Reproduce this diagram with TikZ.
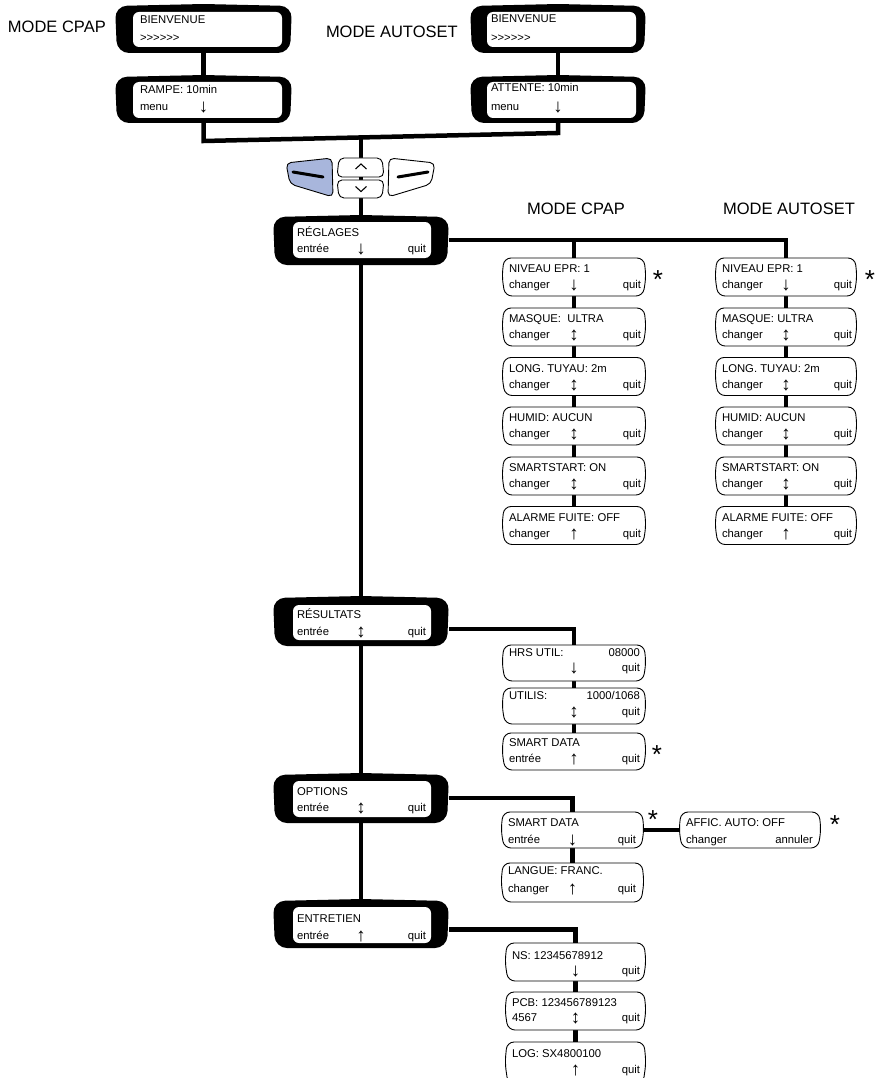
\documentclass[tikz,border=0pt]{standalone}
\usepackage{fontspec}
\usepackage{graphicx}
\setmainfont{Liberation Sans}
\usetikzlibrary{calc,fit}
\definecolor{btnblue}{RGB}{168,182,220}
\tikzset{
  area/.style={inner sep=0pt, outer sep=0pt, draw=none},
  conn/.style={line width=4.5pt, line join=miter, line cap=butt},
  tx/.style={inner sep=0pt, outer sep=0pt, font=\fontsize{11.3}{13}\selectfont},
  modelabel/.style={inner sep=0pt, outer sep=0pt, font=\fontsize{16.5}{19}\selectfont},
  starmark/.style={inner sep=0pt, outer sep=0pt, font=\fontsize{26}{28}\selectfont},
  sline/.style={draw=black, line width=0.9pt, fill=white, rounded corners=7pt},
  frame/.style={fill=black, rounded corners=12pt},
  screen/.style={fill=white, rounded corners=6pt},
  btn/.style={draw=black, line width=0.9pt, rounded corners=5pt},
}
\newcommand\mkbox[5]{\node[area, fit={(#2,#3) (#4,#5)}] (#1) {};}
\newcommand\frameshape[2]{%
  \fill[frame] ($(#1.north west)+(0,2)$) -- (#1.north) -- ($(#1.north east)+(0,2)$)
     -- ($(#1.south east)+(-2,0)$) -- ($(#1.south west)+(2,0)$) -- cycle;
  \fill[screen] (#2.north west) rectangle (#2.south east);}
\newcommand\smallshape[1]{%
  \draw[sline] ($(#1.north west)+(1,0)$) -- ($(#1.north east)+(-1,0)$) -- ($(#1.east)+(1,0)$)
     -- ($(#1.south east)+(-2,0)$) -- ($(#1.south west)+(2,0)$) -- ($(#1.west)+(-1,0)$) -- cycle;}
\newcommand\arr[1]{\ifx\relax#1\relax\else\resizebox{!}{10.5pt}{#1}\fi}
\newcommand\padL{6pt}
\newcommand\padR{5pt}
\newcommand\lines[9]{%
  \path ([xshift=\padL]#1.west) coordinate (#1-xl) ([xshift=-\padR]#1.east) coordinate (#1-xr);
  \node[tx, anchor=base west] (#1-tl) at (#1-xl |- 0,#3) {#5};
  \node[tx, anchor=base east] (#1-tr) at (#1-xr |- 0,#3) {#6};
  \node[tx, anchor=base west] (#1-bl) at (#1-xl |- 0,#4) {#7};
  \node[tx, anchor=center] (#1-ar) at ($(#2.center |- 0,#4)+(0,-2.5)$) {\arr{#8}};
  \node[tx, anchor=base east] (#1-br) at (#1-xr |- 0,#4) {#9};}
\begin{document}
\begin{tikzpicture}[x=1pt,y=-1pt]
\useasboundingbox (0,0) rectangle (876,1078);
\fill[white] (0,0) rectangle (876,1078);
% ---------- box areas ----------
\mkbox{bien1}{115}{4}{292}{53}     \mkbox{bien1in}{133}{12}{282}{47}
\mkbox{rampe}{115}{75}{292}{123}   \mkbox{rampein}{133}{82}{282}{118}
\mkbox{bien2}{470}{4}{646}{53}     \mkbox{bien2in}{487}{12}{636}{47}
\mkbox{attente}{470}{75}{646}{123} \mkbox{attentein}{487}{82}{636}{118}
\mkbox{reglages}{273}{215}{449}{265}   \mkbox{reglagesin}{293}{222}{431}{258}
\mkbox{resultats}{273}{596}{449}{646}  \mkbox{resultatsin}{293}{605}{431}{640}
\mkbox{options}{273}{773}{449}{823}    \mkbox{optionsin}{293}{781}{431}{817}
\mkbox{entretien}{273}{899}{449}{948}  \mkbox{entretienin}{293}{907}{431}{943}
% CPAP column
\mkbox{niv1}{503}{258}{645}{296}
\mkbox{masq1}{503}{308}{645}{346}
\mkbox{long1}{503}{357.5}{645}{395.5}
\mkbox{humid1}{503}{407}{645}{445}
\mkbox{sstart1}{503}{457}{645}{495}
\mkbox{alarm1}{503}{506.5}{645}{544.5}
% AUTOSET column
\mkbox{niv2}{716}{258}{856}{296}
\mkbox{masq2}{716}{308}{856}{346}
\mkbox{long2}{716}{357.5}{856}{395.5}
\mkbox{humid2}{716}{407}{856}{445}
\mkbox{sstart2}{716}{457}{856}{495}
\mkbox{alarm2}{716}{506.5}{856}{544.5}
% results / options / maintenance
\mkbox{hrs}{503}{645}{645}{681}
\mkbox{utilis}{503}{688}{645}{724}
\mkbox{smart1}{503}{733}{645}{770}
\mkbox{smart2}{502}{812}{643}{848}
\mkbox{langue}{502}{863}{643}{902}
\mkbox{affic}{680}{812}{820}{848}
\mkbox{ns}{506}{943}{645}{981}
\mkbox{pcb}{506}{992}{645}{1030}
\mkbox{log}{506}{1042}{645}{1084}
% ---------- connectors ----------
\coordinate (tl) at (rampe.south |- 0,141);
\coordinate (tr) at (attente.south |- 0,133);
\coordinate (tj) at (361,137.5);
\draw[conn] (bien1.south) -- (rampe.north);
\draw[conn] (bien2.south) -- (attente.north);
\draw[conn] (rampe.south) -- (tl) -- (tr) -- (attente.south);
\draw[conn] (tj) -- (reglages.north);
\draw[conn] (reglages.south) -- (resultats.north);
\draw[conn] (resultats.south) -- (options.north);
\draw[conn] (options.south) -- (entretien.north);
\draw[conn] (reglages.east) -| (niv2.north);
\draw[conn] (niv1.north |- reglages.east) -- (niv1.north);
\draw[conn] (niv1.south) -- (masq1.north) (masq1.south) -- (long1.north)
  (long1.south) -- (humid1.north) (humid1.south) -- (sstart1.north) (sstart1.south) -- (alarm1.north);
\draw[conn] (niv2.south) -- (masq2.north) (masq2.south) -- (long2.north)
  (long2.south) -- (humid2.north) (humid2.south) -- (sstart2.north) (sstart2.south) -- (alarm2.north);
\draw[conn] ([yshift=-8pt]resultats.east) -| (hrs.north);
\draw[conn] (hrs.south) -- (utilis.north) (utilis.south) -- (smart1.north);
\draw[conn] (options.east) -| (smart2.north);
\draw[conn] (smart2.east) -- (affic.west);
\draw[conn] (smart2.south) -- (langue.north);
\draw[conn] ([yshift=-6pt]entretien.east) -| (ns.north);
\draw[conn] (ns.south) -- (pcb.north) (pcb.south) -- (log.north);
% ---------- shapes ----------
\frameshape{bien1}{bien1in}
\frameshape{rampe}{rampein}
\frameshape{bien2}{bien2in}
\frameshape{attente}{attentein}
\frameshape{reglages}{reglagesin}
\frameshape{resultats}{resultatsin}
\frameshape{options}{optionsin}
\frameshape{entretien}{entretienin}
\foreach \b in {niv1,masq1,long1,humid1,sstart1,alarm1,niv2,masq2,long2,humid2,sstart2,alarm2,
  hrs,utilis,smart1,smart2,langue,affic,ns,pcb,log}{\smallshape{\b}}
% ---------- buttons ----------
\filldraw[btn, fill=btnblue] (286,163) -- (332,158) -- (333,197) -- (290,184) -- cycle;
\draw[line width=3pt, line cap=round] (293,172) -- (323,177);
\filldraw[btn, fill=white] (435,163) -- (389,158) -- (388,197) -- (431,184) -- cycle;
\draw[line width=3pt, line cap=round] (428,172) -- (398,177);
\filldraw[btn, fill=white] (339,158) -- (382,158) -- (384,177) -- (337,177) -- cycle;
\filldraw[btn, fill=white] (337,180) -- (384,180) -- (382,198) -- (339,198) -- cycle;
\draw[line width=1.1pt] (355.5,169) -- (361,164) -- (366.5,169);
\draw[line width=1.1pt] (355.5,186.5) -- (361,191.5) -- (366.5,186.5);
% ---------- mode labels ----------
\node[modelabel, anchor=base west] (m1) at (8,33) {MODE CPAP};
\node[modelabel, anchor=base west] (m2) at (326,38) {MODE AUTOSET};
\node[modelabel, anchor=base] (m3) at (576,214) {MODE CPAP};
\node[modelabel, anchor=base] (m4) at (789,214) {MODE AUTOSET};
% ---------- display texts ----------
\renewcommand\padL{7pt}
\lines{bien1in}{bien1}{24}{42}{BIENVENUE}{}{>{}>{}>{}>{}>{}>}{}{}
\lines{rampein}{rampe}{94}{110.5}{RAMPE: 10min}{}{menu}{↓}{}
\renewcommand\padL{4pt}
\lines{bien2in}{bien2}{23}{42}{BIENVENUE}{}{>{}>{}>{}>{}>{}>}{}{}
\lines{attentein}{attente}{92}{110.5}{ATTENTE: 10min}{}{menu}{↓}{}
\lines{reglagesin}{reglages}{236}{252.5}{RÉGLAGES}{}{entrée}{↓}{quit}
\lines{resultatsin}{resultats}{618}{635.5}{RÉSULTATS}{}{entrée}{↕}{quit}
\lines{optionsin}{options}{795}{811.5}{OPTIONS}{}{entrée}{↕}{quit}
\lines{entretienin}{entretien}{922}{939.5}{ENTRETIEN}{}{entrée}{↑}{quit}
% ---------- small box texts ----------
\renewcommand\padL{6pt}
\renewcommand\padR{4pt}
\lines{niv1}{niv1}{272.5}{288.5}{NIVEAU EPR: 1}{}{changer}{↓}{quit}
\lines{masq1}{masq1}{322.5}{338.5}{MASQUE:~ ULTRA}{}{changer}{↕}{quit}
\lines{long1}{long1}{372}{388}{LONG. TUYAU: 2m}{}{changer}{↕}{quit}
\lines{humid1}{humid1}{421.5}{437.5}{HUMID: AUCUN}{}{changer}{↕}{quit}
\lines{sstart1}{sstart1}{471.5}{487.5}{SMARTSTART: ON}{}{changer}{↕}{quit}
\lines{alarm1}{alarm1}{521}{537}{ALARME FUITE: OFF}{}{changer}{↑}{quit}
\lines{niv2}{niv2}{272.5}{288.5}{NIVEAU EPR: 1}{}{changer}{↓}{quit}
\lines{masq2}{masq2}{322.5}{338.5}{MASQUE: ULTRA}{}{changer}{↕}{quit}
\lines{long2}{long2}{372}{388}{LONG. TUYAU: 2m}{}{changer}{↕}{quit}
\lines{humid2}{humid2}{421.5}{437.5}{HUMID: AUCUN}{}{changer}{↕}{quit}
\lines{sstart2}{sstart2}{471.5}{487.5}{SMARTSTART: ON}{}{changer}{↕}{quit}
\lines{alarm2}{alarm2}{521}{537}{ALARME FUITE: OFF}{}{changer}{↑}{quit}
\renewcommand\padR{5pt}
\lines{hrs}{hrs}{656}{671.5}{HRS UTIL:}{08000}{}{↓}{quit}
\lines{utilis}{utilis}{699}{715.5}{UTILIS:}{1000/1068}{}{↕}{quit}
\lines{smart1}{smart1}{746}{762.5}{SMART DATA}{}{entrée}{↑}{quit}
\renewcommand\padR{7pt}
\lines{smart2}{smart2}{826}{843}{SMART DATA}{}{entrée}{↓}{quit}
\lines{langue}{langue}{874}{892}{LANGUE: FRANC.}{}{changer}{↑}{quit}
\lines{affic}{affic}{826}{843}{AFFIC. AUTO: OFF}{}{changer}{}{annuler}
\renewcommand\padR{5pt}
\lines{ns}{ns}{959}{974.5}{NS: 12345678912}{}{}{↓}{quit}
\lines{pcb}{pcb}{1006}{1021.5}{PCB: 123456789123}{}{4567}{↕}{quit}
\lines{log}{log}{1057}{1073}{LOG: SX4800100}{}{}{↑}{quit}
% ---------- asterisks ----------
\node[starmark, anchor=base] (s1) at (658,288) {*};
\node[starmark, anchor=base] (s2) at (870,288) {*};
\node[starmark, anchor=base] (s3) at (657,763) {*};
\node[starmark, anchor=base] (s4) at (653,828) {*};
\node[starmark, anchor=base] (s5) at (835,833) {*};
\end{tikzpicture}
\end{document}
